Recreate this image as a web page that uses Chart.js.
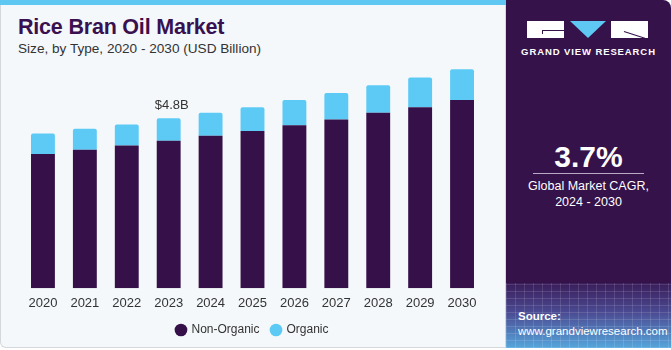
<!DOCTYPE html>
<html lang="en">
<head>
  <meta charset="UTF-8" />
  <title>Rice Bran Oil Market</title>
  <script src="https://cdn.jsdelivr.net/npm/chart.js"></script>
  <style>
    body { margin: 0; width: 671px; height: 350px; background: #fff; font-family: "Liberation Sans", Arial, sans-serif; overflow: hidden; }
    .left { position: absolute; left: 0; top: 0; width: 504px; height: 347px; background: #f4f8fb; border: 1px solid #d5d8da; border-top: none; border-radius: 0 0 0 6px; }
    .stripe { position: absolute; left: 0; top: 0; width: 506px; height: 5px; background: #5ec8f2; }
    h1 { position: absolute; left: 18px; top: 15px; margin: 0; font-size: 21.5px; font-weight: bold; color: #3a1150; letter-spacing: -0.2px; }
    .sub { position: absolute; left: 18px; top: 41px; font-size: 13.6px; color: #333; }
    .chartbox { position: absolute; left: 0; top: 55px; width: 505px; height: 288px; }
    .right { position: absolute; left: 506px; top: 0; width: 165px; height: 348px; background: #35124a; border-radius: 0 8px 0 0; overflow: hidden; }
    .grid { position: absolute; left: 0; top: 283px; width: 165px; height: 65px;
      background:
        repeating-linear-gradient(90deg, rgba(255,255,255,0.12) 0 1px, transparent 1px 9px),
        repeating-linear-gradient(0deg, rgba(255,255,255,0.12) 0 1px, transparent 1px 7px),
        linear-gradient(180deg, #3a1d5a 0%, #4b4a92 45%, #56a6dc 100%); }
    .logo { position: absolute; top: 21px; height: 17px; }
    .logo .r1 { position: absolute; left: 21px; width: 37px; height: 17px; background: #fff; }
    .logo .r1 .cut { position: absolute; left: 15px; top: 9px; width: 22px; height: 1px; background: #35124a; }
    .logo .r1 .cut2 { position: absolute; left: 15px; top: 9px; width: 1px; height: 4px; background: #35124a; }
    .logo .tri { position: absolute; left: 64px; width: 0; height: 0; border-left: 18px solid transparent; border-right: 18px solid transparent; border-top: 17px solid #5ec8f2; }
    .logo .r3 { position: absolute; left: 105px; width: 37px; height: 17px; background: #fff; }
    .logo .r3 .cut { position: absolute; left: 13px; top: 10px; width: 22px; height: 1px; background: #35124a; transform: rotate(18deg); transform-origin: left; }
    .brand { position: absolute; left: 0; width: 165px; top: 46px; text-align: center; color: #fff; font-size: 9.5px; font-weight: bold; letter-spacing: 0.9px; }
    .cagr { position: absolute; left: 0; width: 165px; top: 140px; text-align: center; color: #fff; font-size: 30px; font-weight: bold; }
    .line { position: absolute; left: 27px; width: 111px; top: 173px; height: 1px; background: #b9a9c6; }
    .desc { position: absolute; left: 0; width: 165px; top: 178px; text-align: center; color: #fff; font-size: 12.5px; line-height: 16px; }
    .src { position: absolute; left: 12px; top: 309px; color: #fff; font-size: 11.5px; line-height: 15px; }
    .src b { font-weight: bold; }
  </style>
</head>
<body>
  <div class="left"></div>
  <div class="stripe"></div>
  <h1>Rice Bran Oil Market</h1>
  <div class="sub">Size, by Type, 2020 - 2030 (USD Billion)</div>
  <div class="chartbox"><canvas id="chart"></canvas></div>

  <div class="right">
    <div class="grid"></div>
    <div class="logo">
      <div class="r1"><div class="cut"></div><div class="cut2"></div></div>
      <div class="tri"></div>
      <div class="r3"><div class="cut"></div></div>
    </div>
    <div class="brand">GRAND VIEW RESEARCH</div>
    <div class="cagr">3.7%</div>
    <div class="line"></div>
    <div class="desc">Global Market CAGR,<br>2024 - 2030</div>
    <div class="src"><b>Source:</b><br>www.grandviewresearch.com</div>
  </div>

  <script>
    const years = ['2020', '2021', '2022', '2023', '2024', '2025', '2026', '2027', '2028', '2029', '2030'];
    const nonOrganic = [3.79, 3.91, 4.03, 4.16, 4.30, 4.44, 4.60, 4.76, 4.95, 5.11, 5.31];
    const organic = [0.58, 0.59, 0.59, 0.64, 0.65, 0.67, 0.71, 0.75, 0.78, 0.84, 0.87];
    const calloutIndex = 3;
    const calloutText = '$4.8B';

    // label above the 2023 bar
    const callout = {
      id: 'callout',
      afterDatasetsDraw(chart) {
        const c = chart.ctx;
        const x = chart.scales.x.getPixelForValue(calloutIndex);
        const y = chart.scales.y.getPixelForValue(nonOrganic[calloutIndex] + organic[calloutIndex]);
        c.save();
        c.font = '13px "Liberation Sans", Arial, sans-serif';
        c.fillStyle = '#333';
        c.textAlign = 'center';
        c.textBaseline = 'bottom';
        c.fillText(calloutText, x + 3, y - 6);
        c.restore();
      }
    };

    // pull the legend a bit closer to the year labels
    const tightLegend = {
      id: 'tightLegend',
      beforeInit(chart) {
        const fit = chart.legend.fit;
        chart.legend.fit = function () {
          fit.call(this);
          this.height -= 3;
        };
      }
    };

    new Chart(document.getElementById('chart'), {
      type: 'bar',
      data: {
        labels: years,
        datasets: [
          { label: 'Non-Organic', data: nonOrganic, backgroundColor: '#361049', barPercentage: 0.57, categoryPercentage: 1 },
          { label: 'Organic', data: organic, backgroundColor: '#5ccaf5', barPercentage: 0.57, categoryPercentage: 1,
            borderRadius: { topLeft: 2, topRight: 2 }, borderSkipped: 'bottom' }
        ]
      },
      options: {
        responsive: true,
        maintainAspectRatio: false,
        animation: false,
        layout: { padding: { left: 22, right: 22, top: 10, bottom: 0 } },
        scales: {
          x: { stacked: true, grid: { display: false, drawTicks: false }, border: { display: false },
               afterFit(scale) { scale.height -= 6; },
               ticks: { color: '#333', font: { size: 13, family: '"Liberation Sans", Arial, sans-serif', lineHeight: 0.6 }, padding: 11 } },
          y: { stacked: true, display: false, min: 0, max: 6.3 }
        },
        plugins: {
          legend: { position: 'bottom',
            labels: { usePointStyle: true, pointStyle: 'circle', boxWidth: 9, boxHeight: 9, padding: 12, color: '#333',
                      font: { size: 12, family: '"Liberation Sans", Arial, sans-serif' } } },
          tooltip: { enabled: false }
        }
      },
      plugins: [callout, tightLegend]
    });
  </script>
</body>
</html>
